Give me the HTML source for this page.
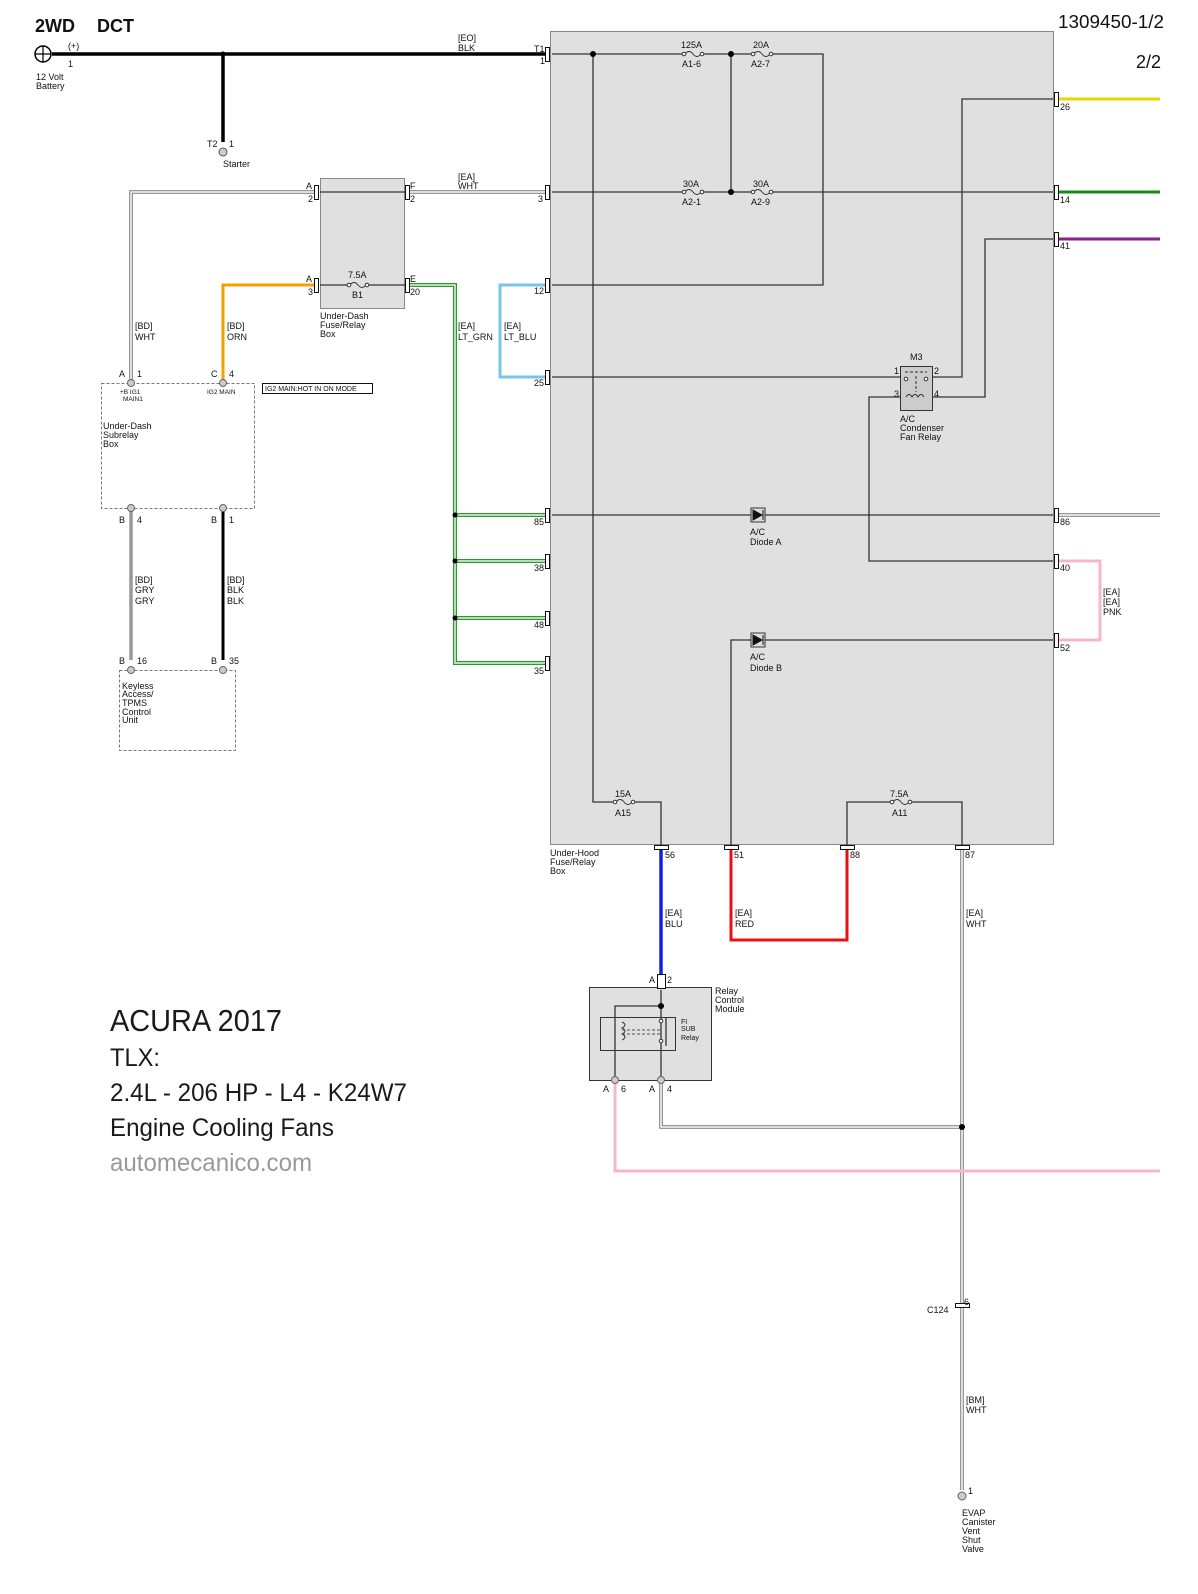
<!DOCTYPE html>
<html><head><meta charset="utf-8"><style>
html,body{margin:0;padding:0;background:#fff;width:1198px;height:1594px;overflow:hidden}
svg{display:block;position:absolute;left:0;top:0}
text{font-family:"Liberation Sans",Arial,sans-serif;fill:#111}
.s{font-size:9px}
</style></head><body>
<svg width="1198" height="1594" viewBox="0 0 1198 1594" xmlns="http://www.w3.org/2000/svg">
<rect x="550.5" y="31.5" width="503" height="813" fill="#e0e0e0" stroke="#888" stroke-width="1"/>
<rect x="320.5" y="178.5" width="84" height="130" fill="#e0e0e0" stroke="#888"/>
<rect x="589.5" y="987.5" width="122" height="93" fill="#e0e0e0" stroke="#333"/>
<rect x="600.5" y="1017.5" width="75" height="33" fill="none" stroke="#333"/>
<rect x="101.5" y="383.5" width="153" height="125" fill="none" stroke="#777" stroke-dasharray="3,2"/>
<rect x="119.5" y="670.5" width="116" height="80" fill="none" stroke="#777" stroke-dasharray="3,2"/>

<g stroke="#000" stroke-width="3.5" fill="none">
<path d="M52 54H545"/>
<path d="M223 54V142"/>
</g>
<circle cx="43" cy="54" r="8" fill="none" stroke="#000" stroke-width="1.5"/>
<path d="M35 54H51M43 46V62" stroke="#000" stroke-width="1.2"/>
<circle cx="223" cy="54" r="2.5" fill="#000"/>
<circle cx="223" cy="152" r="4" fill="#ccc" stroke="#555"/>

<g fill="none">
<path d="M316 192H131V383M408 192H548M1057 515H1160" stroke="#777" stroke-width="3.5"/>
<path d="M316 192H131V383M408 192H548M1057 515H1160" stroke="#fff" stroke-width="1.5"/>
<path d="M962 848V1490" stroke="#777" stroke-width="3.5"/>
<path d="M962 848V1490" stroke="#fff" stroke-width="1.5"/>
<path d="M661 1080V1127H962" stroke="#777" stroke-width="3.5"/>
<path d="M661 1080V1127H962" stroke="#fff" stroke-width="1.5"/>
<path d="M131 508V660" stroke="#999" stroke-width="3.5"/>
<path d="M408 285H455V663H548M455 515H548M455 561H548M455 618H548" stroke="#2a9a2a" stroke-width="4"/>
<path d="M408 285H455V663H548M455 515H548M455 561H548M455 618H548" stroke="#e8f4e8" stroke-width="1.5"/>
</g>
<circle cx="455" cy="515" r="2.5" fill="#000"/>
<circle cx="455" cy="561" r="2.5" fill="#000"/>
<circle cx="455" cy="618" r="2.5" fill="#000"/>
<circle cx="962" cy="1127" r="3" fill="#000"/>

<path d="M316 285H223V383" stroke="#f5a000" stroke-width="3" fill="none"/>
<path d="M223 508V660" stroke="#000" stroke-width="3" fill="none"/>
<path d="M548 285H500V377H548" stroke="#7cc4e8" stroke-width="3" fill="none"/>
<path d="M1057 99H1160" stroke="#e6d800" stroke-width="3"/>
<path d="M1057 192H1160" stroke="#1a8a1a" stroke-width="3"/>
<path d="M1057 239H1160" stroke="#882288" stroke-width="3"/>
<path d="M1057 561H1100V640H1057" stroke="#f5b8c4" stroke-width="3" fill="none"/>
<path d="M661 848V987" stroke="#1020e0" stroke-width="3.5"/>
<path d="M731 848V940H847V848" stroke="#e81010" stroke-width="3" fill="none"/>
<path d="M615 1080V1171H1160" stroke="#f5b8c4" stroke-width="3" fill="none"/>

<g stroke="#333" stroke-width="1.3" fill="none">
<path d="M552 54H683M702 54H753M772 54H823V285H552"/>
<path d="M552 192H683M702 192H753M772 192H1053"/>
<path d="M593 54V802H615M634 802H661V845"/>
<path d="M731 54V192"/>
<path d="M552 377H900M932 377H962V99H1053"/>
<path d="M900 397H869V561H1053M932 397H985V239H1053"/>
<path d="M552 515H751M765 515H1053"/>
<path d="M731 845V640H751M765 640H1053"/>
<path d="M847 845V802H892M911 802H962V845"/>
<path d="M320 192H408M320 285H348M368 285H408"/>
<path d="M661 990V1080M661 1006H615V1080"/>
<path d="M666 1018V1046"/>
</g>
<circle cx="593" cy="54" r="3" fill="#000"/>
<circle cx="731" cy="54" r="3" fill="#000"/>
<circle cx="731" cy="192" r="3" fill="#000"/>
<circle cx="661" cy="1006" r="3" fill="#000"/>
<path d="M622 1022q6 3 0 6q6 3 0 6q6 3 0 6" stroke="#333" fill="none"/>
<path d="M622 1030H662M622 1034H662" stroke="#555" stroke-dasharray="3,2"/>
<circle cx="661" cy="1021" r="1.8" fill="#fff" stroke="#333"/><circle cx="661" cy="1041" r="1.8" fill="#fff" stroke="#333"/>

<g stroke="#333" fill="none" stroke-width="1">
<path d="M685 54q4-5 8 0t8 0"/><circle cx="684" cy="54" r="1.8" fill="#fff"/><circle cx="702" cy="54" r="1.8" fill="#fff"/>
<path d="M754 54q4-5 8 0t8 0"/><circle cx="753" cy="54" r="1.8" fill="#fff"/><circle cx="771" cy="54" r="1.8" fill="#fff"/>
<path d="M685 192q4-5 8 0t8 0"/><circle cx="684" cy="192" r="1.8" fill="#fff"/><circle cx="702" cy="192" r="1.8" fill="#fff"/>
<path d="M754 192q4-5 8 0t8 0"/><circle cx="753" cy="192" r="1.8" fill="#fff"/><circle cx="771" cy="192" r="1.8" fill="#fff"/>
<path d="M350 285q4-5 8 0t8 0"/><circle cx="349" cy="285" r="1.8" fill="#fff"/><circle cx="367" cy="285" r="1.8" fill="#fff"/>
<path d="M616 802q4-5 8 0t8 0"/><circle cx="615" cy="802" r="1.8" fill="#fff"/><circle cx="633" cy="802" r="1.8" fill="#fff"/>
<path d="M893 802q4-5 8 0t8 0"/><circle cx="892" cy="802" r="1.8" fill="#fff"/><circle cx="910" cy="802" r="1.8" fill="#fff"/>
</g>
<g stroke="#333" fill="#ddd"><rect x="751" y="508" width="14" height="14"/><rect x="751" y="633" width="14" height="14"/></g>
<path d="M753 510L762 515L753 520Z M763 510V520 M753 635L762 640L753 645Z M763 635V645" fill="#111" stroke="#111"/>
<rect x="900.5" y="366.5" width="32" height="44" fill="#ccc" stroke="#333"/>
<path d="M905 372H927M916 376V392" stroke="#333" stroke-dasharray="3,2"/>
<circle cx="906" cy="379" r="1.8" fill="#fff" stroke="#333"/><circle cx="926" cy="379" r="1.8" fill="#fff" stroke="#333"/>
<path d="M906 397q3-5 6 0q3-5 6 0q3-5 6 0" stroke="#333" fill="none"/>

<g fill="#fff" stroke="#111" stroke-width="1">
<rect x="545.5" y="47.5" width="4" height="14"/>
<rect x="545.5" y="185.5" width="4" height="14"/>
<rect x="545.5" y="278.5" width="4" height="14"/>
<rect x="545.5" y="370.5" width="4" height="14"/>
<rect x="545.5" y="508.5" width="4" height="14"/>
<rect x="545.5" y="554.5" width="4" height="14"/>
<rect x="545.5" y="611.5" width="4" height="14"/>
<rect x="545.5" y="656.5" width="4" height="14"/>
<rect x="1054.5" y="92.5" width="4" height="14"/>
<rect x="1054.5" y="185.5" width="4" height="14"/>
<rect x="1054.5" y="232.5" width="4" height="14"/>
<rect x="1054.5" y="508.5" width="4" height="14"/>
<rect x="1054.5" y="554.5" width="4" height="14"/>
<rect x="1054.5" y="633.5" width="4" height="14"/>
<rect x="314.5" y="185.5" width="4" height="14"/>
<rect x="314.5" y="278.5" width="4" height="14"/>
<rect x="405.5" y="185.5" width="4" height="14"/>
<rect x="405.5" y="278.5" width="4" height="14"/>
<rect x="654.5" y="845.5" width="14" height="4"/>
<rect x="724.5" y="845.5" width="14" height="4"/>
<rect x="840.5" y="845.5" width="14" height="4"/>
<rect x="955.5" y="845.5" width="14" height="4"/>
<rect x="657.5" y="974.5" width="8" height="14"/>
<rect x="955.5" y="1303.5" width="14" height="4"/>
</g>
<g fill="#ccc" stroke="#666">
<circle cx="131" cy="383" r="3.5"/><circle cx="223" cy="383" r="3.5"/>
<circle cx="131" cy="508" r="3.5"/><circle cx="223" cy="508" r="3.5"/>
<circle cx="131" cy="670" r="3.5"/><circle cx="223" cy="670" r="3.5"/>
<circle cx="615" cy="1080" r="3.5"/><circle cx="661" cy="1080" r="3.5"/>
<circle cx="962" cy="1496" r="4"/>
</g>

<text x="35" y="32" style="font-size:18px;font-weight:bold">2WD</text>
<text x="97" y="32" style="font-size:18px;font-weight:bold">DCT</text>
<text x="1058" y="28" style="font-size:18px" textLength="106" lengthAdjust="spacingAndGlyphs">1309450-1/2</text>
<text x="1136" y="68" style="font-size:18px">2/2</text>
<text class="s" x="68" y="49">(+)</text><text class="s" x="68" y="67">1</text>
<text class="s" x="36" y="80">12 Volt</text><text class="s" x="36" y="89">Battery</text>
<text class="s" x="207" y="147">T2</text><text class="s" x="229" y="147">1</text>
<text class="s" x="223" y="167">Starter</text>
<text class="s" x="458" y="41">[EO]</text><text class="s" x="458" y="51">BLK</text>
<text class="s" x="534" y="52">T1</text><text class="s" x="540" y="64">1</text>
<text class="s" x="681" y="48">125A</text><text class="s" x="682" y="67">A1-6</text>
<text class="s" x="753" y="48">20A</text><text class="s" x="751" y="67">A2-7</text>
<text class="s" x="683" y="187">30A</text><text class="s" x="682" y="205">A2-1</text>
<text class="s" x="753" y="187">30A</text><text class="s" x="751" y="205">A2-9</text>
<text class="s" x="458" y="180">[EA]</text><text class="s" x="458" y="189">WHT</text>
<text class="s" x="538" y="202">3</text><text class="s" x="534" y="294">12</text><text class="s" x="534" y="386">25</text>
<text class="s" x="534" y="525">85</text><text class="s" x="534" y="571">38</text><text class="s" x="534" y="628">48</text><text class="s" x="534" y="674">35</text>
<text class="s" x="1060" y="110">26</text><text class="s" x="1060" y="203">14</text><text class="s" x="1060" y="249">41</text>
<text class="s" x="1060" y="525">86</text><text class="s" x="1060" y="571">40</text><text class="s" x="1060" y="651">52</text>
<text class="s" x="1103" y="595">[EA]</text><text class="s" x="1103" y="605">[EA]</text><text class="s" x="1103" y="615">PNK</text>
<text class="s" x="306" y="189">A</text><text class="s" x="308" y="202">2</text><text class="s" x="410" y="189">F</text><text class="s" x="410" y="202">2</text>
<text class="s" x="306" y="282">A</text><text class="s" x="308" y="295">3</text><text class="s" x="410" y="282">E</text><text class="s" x="410" y="295">20</text>
<text class="s" x="348" y="278">7.5A</text><text class="s" x="352" y="298">B1</text>
<text class="s" x="320" y="319">Under-Dash</text><text class="s" x="320" y="328">Fuse/Relay</text><text class="s" x="320" y="337">Box</text>
<text class="s" x="458" y="329">[EA]</text><text class="s" x="458" y="340">LT_GRN</text>
<text class="s" x="504" y="329">[EA]</text><text class="s" x="504" y="340">LT_BLU</text>
<text class="s" x="135" y="329">[BD]</text><text class="s" x="135" y="340">WHT</text>
<text class="s" x="227" y="329">[BD]</text><text class="s" x="227" y="340">ORN</text>
<text class="s" x="119" y="377">A</text><text class="s" x="137" y="377">1</text>
<text class="s" x="211" y="377">C</text><text class="s" x="229" y="377">4</text>
<rect x="262.5" y="383.5" width="110" height="10" fill="#fff" stroke="#111"/>
<text x="265" y="391" style="font-size:7px">IG2 MAIN:HOT IN ON MODE</text>
<text x="120" y="394" style="font-size:6.5px">+B IG1</text><text x="123" y="401" style="font-size:6.5px">MAIN1</text>
<text x="207" y="394" style="font-size:6.5px">IG2 MAIN</text>
<text class="s" x="103" y="429">Under-Dash</text><text class="s" x="103" y="438">Subrelay</text><text class="s" x="103" y="447">Box</text>
<text class="s" x="119" y="523">B</text><text class="s" x="137" y="523">4</text>
<text class="s" x="211" y="523">B</text><text class="s" x="229" y="523">1</text>
<text class="s" x="135" y="583">[BD]</text><text class="s" x="135" y="593">GRY</text><text class="s" x="135" y="604">GRY</text>
<text class="s" x="227" y="583">[BD]</text><text class="s" x="227" y="593">BLK</text><text class="s" x="227" y="604">BLK</text>
<text class="s" x="119" y="664">B</text><text class="s" x="137" y="664">16</text>
<text class="s" x="211" y="664">B</text><text class="s" x="229" y="664">35</text>
<text class="s" x="122" y="689">Keyless</text><text class="s" x="122" y="697">Access/</text><text class="s" x="122" y="706">TPMS</text><text class="s" x="122" y="715">Control</text><text class="s" x="122" y="723">Unit</text>
<text class="s" x="910" y="360">M3</text>
<text class="s" x="894" y="374">1</text><text class="s" x="934" y="374">2</text><text class="s" x="894" y="397">3</text><text class="s" x="934" y="397">4</text>
<text class="s" x="900" y="422">A/C</text><text class="s" x="900" y="431">Condenser</text><text class="s" x="900" y="440">Fan Relay</text>
<text class="s" x="750" y="535">A/C</text><text class="s" x="750" y="545">Diode A</text>
<text class="s" x="750" y="660">A/C</text><text class="s" x="750" y="671">Diode B</text>
<text class="s" x="615" y="797">15A</text><text class="s" x="615" y="816">A15</text>
<text class="s" x="890" y="797">7.5A</text><text class="s" x="892" y="816">A11</text>
<text class="s" x="550" y="856">Under-Hood</text><text class="s" x="550" y="865">Fuse/Relay</text><text class="s" x="550" y="874">Box</text>
<text class="s" x="665" y="858">56</text><text class="s" x="734" y="858">51</text><text class="s" x="850" y="858">88</text><text class="s" x="965" y="858">87</text>
<text class="s" x="665" y="916">[EA]</text><text class="s" x="665" y="927">BLU</text>
<text class="s" x="735" y="916">[EA]</text><text class="s" x="735" y="927">RED</text>
<text class="s" x="966" y="916">[EA]</text><text class="s" x="966" y="927">WHT</text>
<text class="s" x="649" y="983">A</text><text class="s" x="667" y="983">2</text>
<text class="s" x="715" y="994">Relay</text><text class="s" x="715" y="1003">Control</text><text class="s" x="715" y="1012">Module</text>
<text x="681" y="1024" style="font-size:7px">FI</text><text x="681" y="1031" style="font-size:7px">SUB</text><text x="681" y="1040" style="font-size:7px">Relay</text>
<text class="s" x="603" y="1092">A</text><text class="s" x="621" y="1092">6</text>
<text class="s" x="649" y="1092">A</text><text class="s" x="667" y="1092">4</text>
<text class="s" x="927" y="1313">C124</text><text class="s" x="964" y="1305">6</text>
<text class="s" x="966" y="1403">[BM]</text><text class="s" x="966" y="1413">WHT</text>
<text class="s" x="968" y="1494">1</text>
<text class="s" x="962" y="1516">EVAP</text><text class="s" x="962" y="1525">Canister</text><text class="s" x="962" y="1534">Vent</text><text class="s" x="962" y="1543">Shut</text><text class="s" x="962" y="1552">Valve</text>

<text x="110" y="1031" style="font-size:31px;fill:#1a1a1a" textLength="172" lengthAdjust="spacingAndGlyphs">ACURA 2017</text>
<text x="110" y="1066" style="font-size:25px;fill:#1a1a1a" textLength="50" lengthAdjust="spacingAndGlyphs">TLX:</text>
<text x="110" y="1101" style="font-size:25px;fill:#1a1a1a" textLength="297" lengthAdjust="spacingAndGlyphs">2.4L - 206 HP - L4 - K24W7</text>
<text x="110" y="1136" style="font-size:25px;fill:#1a1a1a" textLength="224" lengthAdjust="spacingAndGlyphs">Engine Cooling Fans</text>
<text x="110" y="1171" style="font-size:25px;fill:#999" textLength="202" lengthAdjust="spacingAndGlyphs">automecanico.com</text>
</svg>
</body></html>
